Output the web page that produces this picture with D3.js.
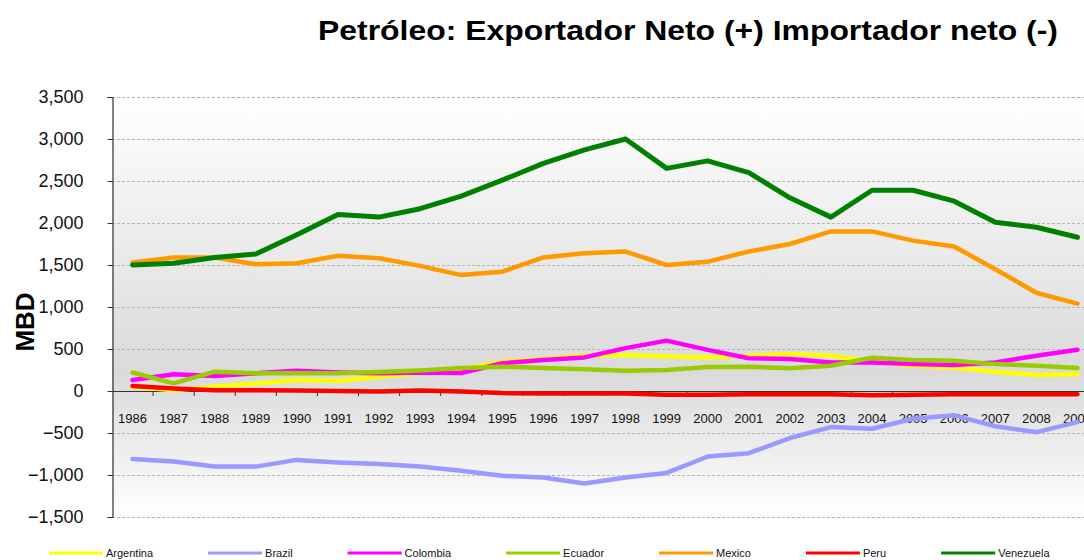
<!DOCTYPE html>
<html>
<head>
<meta charset="utf-8">
<script src="https://cdn.jsdelivr.net/npm/d3@7"></script>
<style>
    body { margin: 0; background: #fff; }
    svg { display: block; font-family: "Liberation Sans", Arial, sans-serif; }
</style>
</head>
<body>
<div id="chart"></div>
<script>
// years on the x axis
var years = ["1986","1987","1988","1989","1990","1991","1992","1993","1994","1995","1996","1997",
             "1998","1999","2000","2001","2002","2003","2004","2005","2006","2007","2008","2009"];

// series values (MBD)
var argentina = [50,10,50,90,130,120,170,210,260,350,380,420,430,410,400,420,440,420,350,300,280,230,190,200];
var brazil    = [-810,-840,-900,-900,-820,-850,-870,-900,-950,-1010,-1030,-1100,-1030,-975,-780,-740,-560,-430,-450,-330,-290,-420,-490,-370];
var colombia  = [130,200,180,210,240,220,210,220,215,330,370,400,510,600,490,390,380,340,340,320,310,340,420,490];
var ecuador   = [220,90,230,210,210,210,225,245,275,290,275,260,240,250,285,290,270,300,395,370,360,320,300,275];
var mexico    = [1530,1590,1590,1510,1520,1610,1580,1490,1380,1420,1590,1640,1660,1500,1540,1660,1750,1900,1900,1790,1720,1450,1170,1040];
var peru      = [60,30,10,10,5,0,-5,5,-5,-25,-30,-30,-30,-45,-45,-40,-40,-40,-50,-45,-40,-40,-40,-40];
var venezuela = [1500,1520,1590,1630,1860,2100,2070,2170,2320,2510,2710,2870,3000,2650,2740,2600,2300,2070,2390,2390,2260,2010,1950,1830];

var seriesNames  = ["Argentina","Brazil","Colombia","Ecuador","Mexico","Peru","Venezuela"];
var seriesValues = [argentina, brazil, colombia, ecuador, mexico, peru, venezuela];
var seriesColors = ["#ffff00","#9999ff","#ff00ff","#99cc00","#ff9900","#ff0000","#008000"];

var yTicks = [-1500,-1000,-500,0,500,1000,1500,2000,2500,3000,3500];

var width = 1084, height = 560;
var plot = {left: 112, right: 1098, top: 97, bottom: 517};

var svg = d3.select("#chart").append("svg")
    .attr("width", width)
    .attr("height", height);

// background gradient of the plot area
var defs = svg.append("defs");
var grad = defs.append("linearGradient")
    .attr("id", "bg")
    .attr("x1", 0).attr("y1", 0).attr("x2", 0).attr("y2", 1);
grad.append("stop").attr("offset", "0%").attr("stop-color", "#ffffff");
grad.append("stop").attr("offset", "66%").attr("stop-color", "#dadada");
grad.append("stop").attr("offset", "100%").attr("stop-color", "#ffffff");

svg.append("rect")
    .attr("x", plot.left)
    .attr("y", plot.top)
    .attr("width", plot.right - plot.left)
    .attr("height", plot.bottom - plot.top)
    .attr("fill", "url(#bg)");

var x = d3.scalePoint()
    .domain(years)
    .range([plot.left, plot.right])
    .padding(0.5);

var y = d3.scaleLinear()
    .domain([-1500, 3500])
    .range([plot.bottom, plot.top]);

// gridlines
svg.append("g")
    .selectAll("line")
    .data(yTicks.filter(function(d) { return d !== 0; }))
    .enter().append("line")
    .attr("x1", plot.left)
    .attr("x2", plot.right)
    .attr("y1", function(d) { return y(d) + 0.5; })
    .attr("y2", function(d) { return y(d) + 0.5; })
    .attr("stroke", "#b4b4b4")
    .attr("stroke-width", 1)
    .attr("stroke-dasharray", "3,2");

// y axis
var yAxis = d3.axisLeft(y)
    .tickValues(yTicks)
    .tickSize(5)
    .tickPadding(24)
    .tickFormat(d3.format(","));

svg.append("g")
    .attr("transform", "translate(" + (plot.left + 0.5) + ",0)")
    .call(yAxis)
    .call(function(g) {
        g.select(".domain").attr("stroke", "#333").attr("stroke-width", 1.2);
        g.selectAll(".tick line").attr("stroke", "#333");
        g.selectAll("text")
            .attr("font-size", 18)
            .attr("fill", "#111")
            .attr("font-family", "Liberation Sans, Arial, sans-serif");
    });

// zero line with category boundary ticks
var step = x.step();
var boundaries = years.slice(1).map(function(d) { return x(d) - step / 2; });

svg.append("line")
    .attr("x1", plot.left)
    .attr("x2", width)
    .attr("y1", y(0) + 0.5)
    .attr("y2", y(0) + 0.5)
    .attr("stroke", "#333")
    .attr("stroke-width", 1.2);

svg.append("g")
    .selectAll("line")
    .data(boundaries)
    .enter().append("line")
    .attr("x1", function(d) { return d; })
    .attr("x2", function(d) { return d; })
    .attr("y1", y(0))
    .attr("y2", y(0) + 5)
    .attr("stroke", "#333");

// year labels
svg.append("g")
    .selectAll("text")
    .data(years)
    .enter().append("text")
    .attr("x", function(d) { return x(d); })
    .attr("y", y(0) + 32)
    .attr("text-anchor", "middle")
    .attr("font-size", 13)
    .attr("fill", "#111")
    .text(function(d) { return d; });

// series lines
var line = d3.line()
    .x(function(d, i) { return x(years[i]); })
    .y(function(d) { return y(d); });

svg.append("g")
    .selectAll("path")
    .data(seriesValues)
    .enter().append("path")
    .attr("d", line)
    .attr("fill", "none")
    .attr("stroke", function(d, i) { return seriesColors[i]; })
    .attr("stroke-width", function(d, i) { return i === 6 ? 5 : 4.5; })
    .attr("stroke-linejoin", "round")
    .attr("stroke-linecap", "round");

// title
svg.append("text")
    .attr("x", 318)
    .attr("y", 40)
    .attr("font-size", 28)
    .attr("font-weight", "bold")
    .attr("fill", "#000")
    .attr("textLength", 740)
    .attr("lengthAdjust", "spacingAndGlyphs")
    .text("Petróleo: Exportador Neto (+) Importador neto (-)");

// y title
svg.append("text")
    .attr("transform", "translate(34,322) rotate(-90)")
    .attr("text-anchor", "middle")
    .attr("font-size", 26)
    .attr("font-weight", "bold")
    .attr("fill", "#000")
    .text("MBD");

// legend
var legend = svg.append("g").attr("font-size", 11)
    .attr("font-family", "Liberation Sans Narrow, Arial Narrow, Liberation Sans, sans-serif");
var lx = 49;
seriesNames.forEach(function(name, i) {
    legend.append("line")
        .attr("x1", lx).attr("x2", lx + 54)
        .attr("y1", 553).attr("y2", 553)
        .attr("stroke", seriesColors[i])
        .attr("stroke-width", 3);
    var t = legend.append("text")
        .attr("x", lx + 57)
        .attr("y", 557)
        .attr("fill", "#111")
        .text(name);
    lx += 57 + t.node().getComputedTextLength() + 55;
});
</script>
</body>
</html>
